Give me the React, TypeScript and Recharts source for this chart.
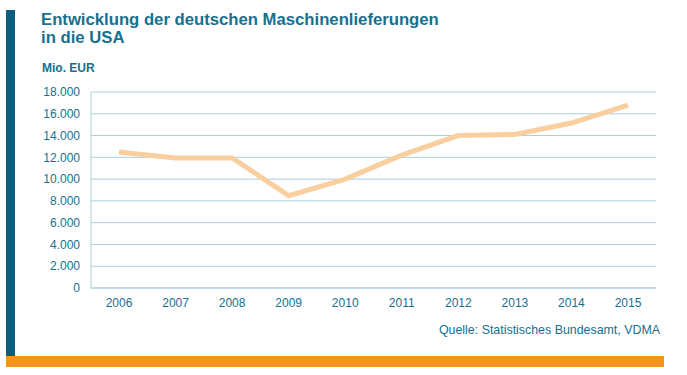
import React from "react";
import { LineChart, Line, XAxis, YAxis, CartesianGrid } from "recharts";

const years = ["2006", "2007", "2008", "2009", "2010", "2011", "2012", "2013", "2014", "2015"];
const values = [12500, 11950, 11950, 8480, 10000, 12200, 14000, 14100, 15150, 16800];
const yTicks = [0, 2000, 4000, 6000, 8000, 10000, 12000, 14000, 16000, 18000];

const data = years.map((y, i) => ({ year: y, value: values[i] }));

const TEAL = "#16708f";
const GRID = "#a9cfdc";
const FONT = "'Liberation Sans', Arial, sans-serif";

const fmt = (v: number) => String(v).replace(/\B(?=(\d{3})+(?!\d))/g, ".");

export default function App() {
  return (
    <div
      style={{
        position: "absolute",
        left: 0,
        top: 0,
        width: 687,
        height: 375,
        background: "#ffffff",
        fontFamily: FONT,
        overflow: "hidden",
      }}
    >
      <div style={{ position: "absolute", left: 6, top: 10, width: 9, height: 346, background: "#0b5f7c" }} />
      <div style={{ position: "absolute", left: 6, top: 356, width: 658, height: 11, background: "#f7941d" }} />
      <div
        style={{
          position: "absolute",
          left: 41,
          top: 11,
          fontSize: 16.7,
          lineHeight: "18.4px",
          fontWeight: "bold",
          color: TEAL,
          whiteSpace: "nowrap",
        }}
      >
        Entwicklung der deutschen Maschinenlieferungen
        <br />
        in die USA
      </div>
      <div
        style={{
          position: "absolute",
          left: 42,
          top: 61,
          fontSize: 12,
          lineHeight: "14px",
          fontWeight: "bold",
          color: TEAL,
        }}
      >
        Mio. EUR
      </div>
      <div
        style={{
          position: "absolute",
          right: 687 - 660,
          top: 323,
          fontSize: 12.4,
          lineHeight: "14px",
          color: TEAL,
          whiteSpace: "nowrap",
        }}
      >
        Quelle: Statistisches Bundesamt, VDMA
      </div>
      <div style={{ position: "absolute", left: 0, top: 0 }}>
        <LineChart
          width={687}
          height={375}
          data={data}
          margin={{ top: 92, right: 31, bottom: 57, left: 31 }}
        >
          <CartesianGrid vertical={false} stroke={GRID} strokeWidth={1} />
          <XAxis
            dataKey="year"
            height={30}
            padding={{ left: 28, right: 28 }}
            tickLine={false}
            tickSize={0}
            tickMargin={10}
            axisLine={{ stroke: GRID }}
            tick={{ fill: TEAL, fontSize: 12, fontFamily: FONT }}
            interval={0}
          />
          <YAxis
            width={60}
            domain={[0, 18000]}
            ticks={yTicks}
            tickFormatter={fmt}
            tickLine={false}
            tickSize={0}
            tickMargin={11}
            axisLine={{ stroke: GRID }}
            tick={{ fill: TEAL, fontSize: 12, fontFamily: FONT }}
            interval={0}
          />
          <Line
            type="linear"
            dataKey="value"
            stroke="#f9cf9f"
            strokeWidth={5}
            dot={false}
            isAnimationActive={false}
          />
        </LineChart>
      </div>
    </div>
  );
}
